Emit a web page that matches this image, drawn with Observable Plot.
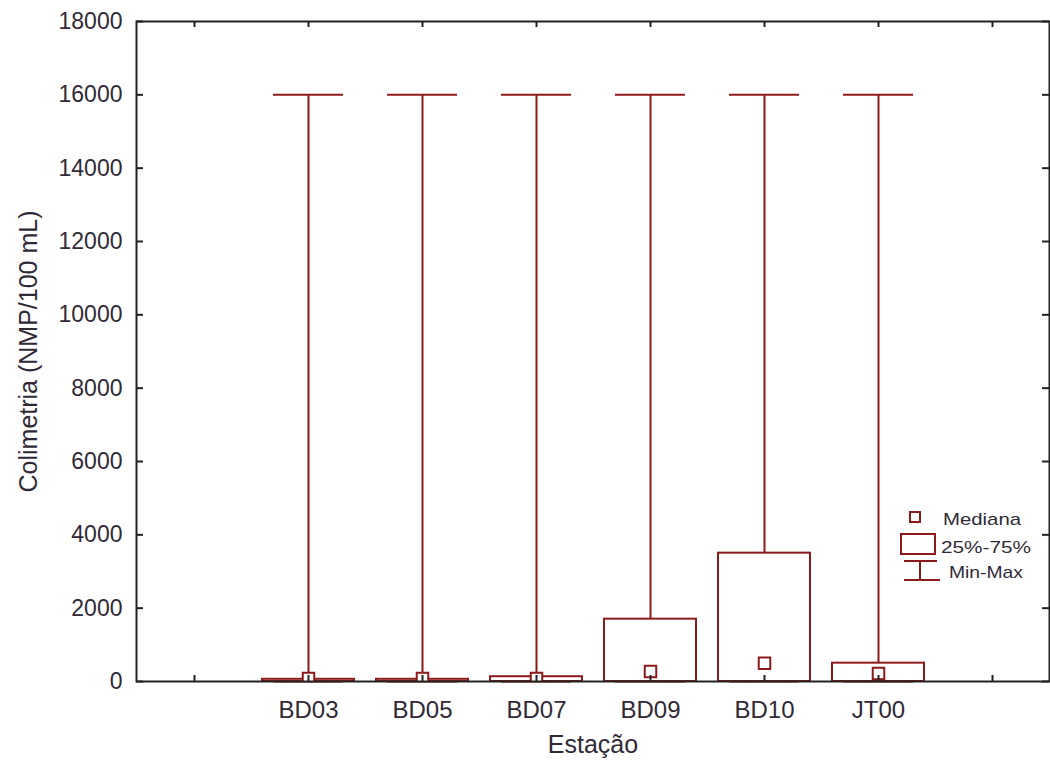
<!DOCTYPE html>
<html>
<head>
<meta charset="utf-8">
<script src="https://cdn.jsdelivr.net/npm/d3@7"></script>
<script src="https://cdn.jsdelivr.net/npm/@observablehq/plot@0.6"></script>
<style>
  body { margin: 0; background: #fff; }
  #wrap { position: relative; width: 1050px; height: 766px; }
  #legend { position: absolute; left: 0; top: 0; pointer-events: none; }
</style>
</head>
<body>
<div id="wrap"></div>
<script>
// ---- data ----
const stations   = ["BD03", "BD05", "BD07", "BD09", "BD10", "JT00"];
const minVals    = [0, 0, 0, 0, 0, 0];
const q1Vals     = [0, 0, 0, 0, 0, 0];
const medianVals = [80, 80, 80, 270, 500, 220];
const q3Vals     = [60, 60, 130, 1700, 3500, 500];
const maxVals    = [16000, 16000, 16000, 16000, 16000, 16000];
const xDomain    = ["", ...stations, " "];
const yTicks     = [0, 2000, 4000, 6000, 8000, 10000, 12000, 14000, 16000, 18000];
const legendLabels = ["Mediana", "25%-75%", "Min-Max"];
const yTitle = "Colimetria (NMP/100 mL)";
const xTitle = "Estação";

const data = stations.map((s, i) => ({
  station: s, min: minVals[i], q1: q1Vals[i], median: medianVals[i], q3: q3Vals[i], max: maxVals[i]
}));

const RED = "#8c1a1a";
const AX = "#222222";
const TXT = "#302a36";
const W = 1050, H = 766;
const mL = 136, mR = 1, mT = 21, mB = 85;
const fw = W - mL - mR, fh = H - mT - mB;

const chart = Plot.plot({
  width: W, height: H,
  marginLeft: mL, marginRight: mR, marginTop: mT, marginBottom: mB,
  style: { fontFamily: "'Liberation Sans', Arial, sans-serif", color: TXT, background: "#fff" },
  x: { type: "band", domain: xDomain, padding: 0 },
  y: { domain: [0, 18000] },
  marks: [
    // whisker stems
    Plot.ruleX(data, { x: "station", y1: "q3", y2: "max", stroke: RED, strokeWidth: 2 }),
    // whisker caps
    Plot.tickY(data, { x: "station", y: "max", stroke: RED, strokeWidth: 2, insetLeft: 22, insetRight: 22 }),
    Plot.tickY(data, { x: "station", y: "min", stroke: RED, strokeWidth: 2, insetLeft: 22, insetRight: 22 }),
    // boxes 25%-75%
    Plot.barY(data, { x: "station", y1: "q1", y2: "q3", fill: "white", stroke: RED, strokeWidth: 2, insetLeft: 11, insetRight: 11 }),
    // medians
    Plot.dot(data, { x: "station", y: "median", symbol: "square", r: 6.5, fill: "white", stroke: RED, strokeWidth: 2, clip: true }),
    // frame
    Plot.frame({ stroke: AX, strokeWidth: 2 }),
    // inward ticks
    Plot.tickY(yTicks, { y: d => d, insetRight: fw - 7, stroke: AX, strokeWidth: 2 }),
    Plot.tickY(yTicks, { y: d => d, insetLeft: fw - 7, stroke: AX, strokeWidth: 2 }),
    Plot.tickX(xDomain, { x: d => d, insetBottom: fh - 6, stroke: AX, strokeWidth: 2 }),
    Plot.tickX(xDomain, { x: d => d, insetTop: fh - 6, stroke: AX, strokeWidth: 2 }),
    // axes labels
    Plot.axisY({ ticks: yTicks, tickSize: 0, tickPadding: 14, label: null, fontSize: 23, tickFormat: d => String(d) }),
    Plot.axisX({ anchor: "bottom", tickSize: 0, tickPadding: 19, label: null, fontSize: 24, tickFormat: d => d.trim() }),
    // axis titles
    Plot.text([yTitle], { frameAnchor: "left", textAnchor: "middle", dx: -108, rotate: -90, fontSize: 25, fill: TXT }),
    Plot.text([xTitle], { frameAnchor: "bottom", textAnchor: "middle", dy: 71, fontSize: 25, fill: TXT })
  ]
});

const wrap = document.getElementById("wrap");
wrap.appendChild(chart);

// ---- legend overlay (inside the plot area, as in the reference) ----
const lg = d3.select(wrap).append("svg")
  .attr("id", "legend").attr("width", W).attr("height", H)
  .style("font-family", "'Liberation Sans', Arial, sans-serif");

lg.append("rect").attr("x", 910).attr("y", 512).attr("width", 10).attr("height", 10)
  .attr("fill", "white").attr("stroke", RED).attr("stroke-width", 2);
lg.append("rect").attr("x", 901).attr("y", 534).attr("width", 34).attr("height", 20)
  .attr("fill", "white").attr("stroke", RED).attr("stroke-width", 2);
lg.append("line").attr("x1", 904).attr("x2", 937).attr("y1", 561).attr("y2", 561).attr("stroke", RED).attr("stroke-width", 2);
lg.append("line").attr("x1", 920).attr("x2", 920).attr("y1", 561).attr("y2", 580).attr("stroke", RED).attr("stroke-width", 2);
lg.append("line").attr("x1", 904).attr("x2", 940).attr("y1", 580).attr("y2", 580).attr("stroke", RED).attr("stroke-width", 2);

const lx = [943, 941, 949], ly = [519, 547, 572], lw = [78, 90, 74];
legendLabels.forEach((t, i) => {
  lg.append("text").attr("x", lx[i]).attr("y", ly[i]).attr("dy", "0.35em")
    .attr("font-size", 17).attr("fill", TXT)
    .attr("textLength", lw[i]).attr("lengthAdjust", "spacingAndGlyphs")
    .text(t);
});
</script>
</body>
</html>
